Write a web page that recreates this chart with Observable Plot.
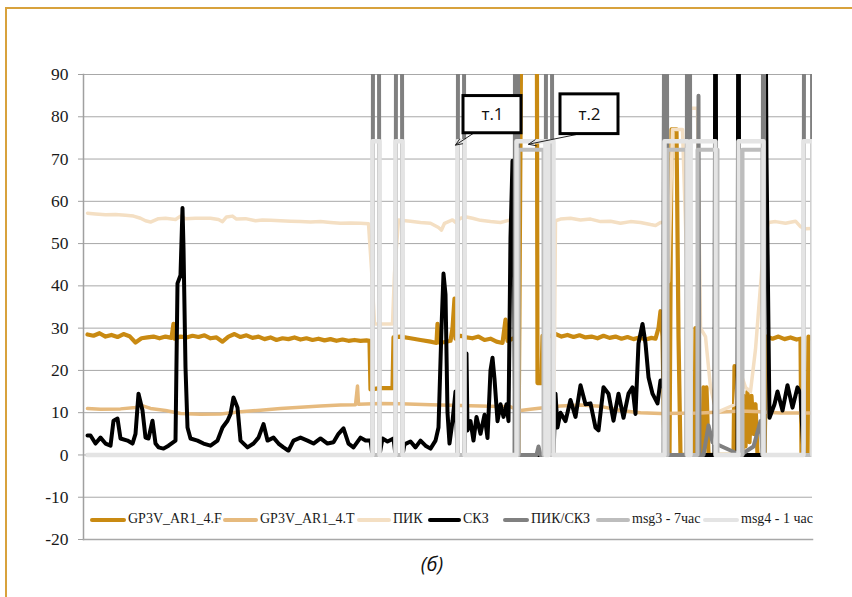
<!DOCTYPE html>
<html>
<head>
<meta charset="utf-8">
<script src="https://cdn.jsdelivr.net/npm/d3@7"></script>
<script src="https://cdn.jsdelivr.net/npm/@observablehq/plot@0.6"></script>
<style>
  html, body { margin: 0; padding: 0; background: #fff; }
  #wrap { position: relative; width: 852px; height: 597px; overflow: hidden; font-family: "Liberation Serif", "Times New Roman", Tinos, "DejaVu Serif", serif; color: #1a1a1a; }
  #border { position: absolute; left: 5px; top: 7px; width: 900px; height: 700px; border-left: 2px solid #D8A23C; border-top: 2px solid #D8A23C; }
  #chart { position: absolute; left: 0; top: 0; }
  #chart svg text { font-family: "Liberation Serif", "Times New Roman", Tinos, "DejaVu Serif", serif; }
  #chart svg text.callout { font-family: "Open Sans", "Noto Sans", sans-serif; }
  .lg { position: absolute; top: 510px; height: 18px; font-size: 14px; line-height: 18px; white-space: nowrap; }
  .lg .sw { position: absolute; top: 7.5px; height: 4px; border-radius: 2px; }
  .lg .tx { position: absolute; top: 0; }
  #caption { position: absolute; left: 0; width: 864px; top: 550px; text-align: center; font-family: "Open Sans", "DejaVu Sans", sans-serif; font-style: italic; font-size: 20px; color: #111; }
</style>
</head>
<body>
<div id="wrap">
  <div id="border"></div>
  <div id="chart"></div>
  <div id="legend"></div>
  <div id="caption">(б)</div>
</div>
<script>
// ---- data: [time index, value] ----
const seriesF = [[4,28.5],[10,28.2],[16,28.8],[22,28.0],[28,28.4],[34,27.9],[40,28.6],[46,28.1],[52,26.6],[58,27.6],[64,27.8],[70,28.0],[76,27.6],[82,28.0],[88,27.7],[90,31],[91,27.5],[97,28.0],[103,27.8],[109,28.2],[115,27.9],[121,28.3],[127,27.6],[133,27.8],[139,26.8],[145,28.0],[151,28.6],[157,27.9],[163,28.3],[169,27.7],[175,28.0],[181,27.4],[187,27.8],[193,27.2],[199,27.6],[205,27.4],[211,27.8],[217,27.3],[223,27.6],[229,27.2],[235,27.5],[241,27.1],[247,27.4],[253,27.0],[259,27.3],[265,27.0],[271,27.2],[277,27.0],[283,27.1],[286,27.0],[287,15.5],[297,15.8],[309,15.8],[310,27.8],[317,28.0],[327,27.6],[337,27.2],[347,26.8],[353,26.5],[354,31],[355,26.6],[361,26.7],[367,27.0],[369,30],[371,37],[372,27.5],[377,28.2],[383,27.8],[389,27.6],[395,28.0],[401,27.2],[407,27.5],[413,26.8],[419,26.5],[422,32],[424,27.0],[429,27.5],[433,27.5],[435,0],[439,150],[453,150],[454,17],[458,17],[459,28.2],[465,28.0],[472,28.6],[478,28.0],[484,28.4],[490,27.9],[496,28.3],[502,27.8],[508,28.0],[514,27.6],[520,28.2],[526,27.7],[532,28.0],[538,27.5],[544,27.9],[550,27.4],[556,27.8],[562,27.3],[568,27.7],[572,27.5],[575,30],[577,34],[579,28],[581,0],[586,0],[588,77],[593,77],[595,28],[597,0],[604,0],[605,82],[606,0],[611,0],[612,30],[614,0],[619,0],[620,16],[622,2],[623,16],[625,0],[650,0],[651,21],[653,0],[659,0],[660,14],[662,2],[664,15],[666,3],[668,14],[670,5],[672,12],[674,0],[681,0],[683,28],[689,27.5],[695,28.0],[701,27.4],[707,27.8],[713,27.3],[717,27.5],[718,0],[724,0],[725,28],[729,27.5]];

const seriesT = [[4,11],[17,10.8],[37,10.9],[52,11.2],[57,11.8],[67,11],[82,10.5],[97,9.8],[117,9.6],[137,9.7],[157,10.2],[177,10.6],[197,11],[217,11.3],[237,11.6],[257,11.8],[272,11.9],[274,16.3],[275,12],[297,12.2],[317,12.1],[347,11.9],[377,11.7],[407,11.5],[427,11.4],[437,10.5],[447,10.8],[462,11.2],[477,11.6],[497,11.8],[517,11.5],[537,10.5],[557,10],[577,9.8],[617,9.9],[657,10.4],[677,10.2],[697,9.9],[729,9.9]];

const seriesPIK = [[4,57.2],[12,57],[22,56.8],[32,56.9],[42,56.7],[50,56.5],[57,56],[62,55.4],[67,55.1],[75,55.9],[82,56],[92,55.7],[97,56.5],[102,55.9],[112,56],[127,56],[135,55.7],[139,55.2],[143,56.3],[149,56.5],[153,55.8],[162,55.9],[172,55.4],[179,55.6],[187,55.5],[197,55.4],[207,55.3],[217,55.2],[227,55.1],[237,55.2],[247,55],[257,54.8],[267,54.9],[277,54.8],[285,54.7],[288,44],[291,31],[309,31],[311,43],[315,55.6],[327,55.3],[337,55],[347,54.8],[355,53.8],[358,53.2],[361,54.8],[365,55.2],[369,55.6],[372,55],[377,56],[383,56.3],[389,56],[397,55.5],[407,55.2],[417,55],[425,55.5],[431,55],[433,0],[470,0],[472,55.4],[477,55.8],[487,56],[497,55.6],[507,55.8],[517,55.2],[527,55.3],[537,54.8],[547,55.2],[557,55],[567,54.5],[572,54.3],[577,55],[581,55],[585,41],[589,77],[599,77],[604,40],[607,82],[614,82],[617,30],[622,28],[627,16],[633,10],[652,12],[655,21],[662,16],[667,15],[672,25],[679,46],[682,52],[685,55],[692,55.2],[702,54.8],[712,55.3],[717,54],[722,53.5],[729,53.6]];

const seriesSKZ = [[4,4.6],[7,4.6],[12,2.7],[17,4.1],[22,2.7],[27,2.2],[30,8.1],[34,8.6],[37,3.9],[44,3.4],[49,2.7],[52,5],[55,14.5],[59,10.5],[62,4.1],[65,3.9],[69,8.1],[72,2.7],[75,1.8],[80,1.5],[85,2.2],[92,3.4],[94,40.6],[97,42.5],[99,58.4],[100,49],[102,20.7],[104,6.5],[107,3.9],[114,3.4],[120,2.7],[127,2.2],[134,3.4],[139,6.5],[144,8.1],[147,9.7],[150,13.6],[154,11.2],[157,3.4],[164,1.8],[170,2.7],[175,4.1],[180,7.3],[184,3.4],[190,4.1],[195,2.7],[200,1.8],[205,1],[210,3.4],[217,4.1],[224,3.4],[230,2.7],[237,3.9],[244,2.7],[250,3],[255,5],[260,6.3],[265,2.7],[270,1.8],[277,4.1],[282,3.4],[287,3.4],[289,0],[296,0],[299,3.9],[304,3.2],[310,3.9],[312,0],[319,0],[321,2.5],[327,3.2],[332,1.8],[337,3.4],[342,2.2],[347,1.5],[352,3.4],[355,6.5],[358,30],[360,42.9],[362,38],[364,10],[366,2.7],[369,8],[372,15],[374,0],[381,0],[383,24],[384,5.8],[387,8],[390,3.4],[393,9],[397,5],[401,9.5],[404,4],[407,20],[409,23],[411,18],[414,8],[417,12],[420,9],[423,12],[425,8],[427,51.5],[429,69.6],[430,60],[432,0],[470,0],[472,14.5],[474,6.5],[477,10],[482,8],[487,13],[492,9],[497,16.5],[502,12],[507,12.2],[512,6.5],[515,5.8],[520,16],[525,14.5],[530,8.1],[535,14.5],[540,8.8],[545,14.5],[549,16],[552,9.7],[555,26.4],[559,31],[562,26.4],[565,18.4],[569,14.5],[574,12.2],[577,17.6],[580,16],[581,150],[582,0],[631,0],[632,150],[633,0],[654,0],[655,150],[656,0],[680,0],[681,150],[683,70.4],[686,8.8],[691,12],[694,15],[699,10.5],[704,16.5],[709,11.2],[714,16],[717,14.5],[720,0],[729,0]];

const seriesRatio = [[4,0],[289,0],[290,200],[295,200],[296,0],[312,0],[313,200],[318,200],[319,0],[374,0],[375,200],[380,200],[381,0],[431,0],[432,200],[434,200],[435,0],[453,0],[455,2],[457,0],[462,0],[463,200],[468,200],[469,0],[580,0],[581,200],[583,200],[584,0],[603,0],[604,200],[606,200],[607,0],[614,0],[615,85],[616,0],[620,0],[625,7],[629,3],[657,0],[670,2],[677,8],[679,0],[680,200],[681,0],[720,0],[721,200],[728,200],[729,0]];

const seriesMsg3 = [[4,0],[435,0],[435,72.2],[460,72.2],[460,0],[584,0],[584,72.2],[603,72.2],[603,0],[614,0],[614,72.2],[634,72.2],[634,0],[659,0],[659,72.2],[679,72.2],[679,0],[729,0]];

const seriesMsg4 = [[4,0],[289,0],[289,74.2],[296,74.2],[296,0],[312,0],[312,74.2],[319,74.2],[319,0],[374,0],[374,74.2],[381,74.2],[381,0],[433,0],[433,74.2],[462,74.2],[462,0],[465,0],[465,74.2],[470,74.2],[470,0],[581,0],[581,74.2],[604,74.2],[604,0],[607,0],[607,74.2],[632,74.2],[632,0],[655,0],[655,74.2],[680,74.2],[680,0],[720,0],[720,74.2],[729,74.2],[729,0]];

const seriesNames  = ["GP3V_AR1_4.F", "GP3V_AR1_4.T", "ПИК", "СКЗ", "ПИК/СКЗ", "msg3 - 7час", "msg4 - 1 час"];
const seriesColors = ["#C98A12", "#E6BA7E", "#F4DFC3", "#000000", "#808080", "#BDBDBD", "#E4E4E4"];
const seriesWidths = [4.2, 3.5, 3.5, 4, 4, 4, 4.5];
const seriesData   = [seriesF, seriesT, seriesPIK, seriesSKZ, seriesRatio, seriesMsg3, seriesMsg4];

const yTicks = [-20, -10, 0, 10, 20, 30, 40, 50, 60, 70, 80, 90];

// callouts
const calloutLabels = ["т.1", "т.2"];
const calloutTipT   = [372, 445];
const calloutTipV   = [73.3, 73.5];
const calloutFromT  = [390, 495];
const calloutFromV  = [76.1, 75.9];
const calloutBoxT1  = [380, 477];
const calloutBoxT2  = [438, 535];
const calloutBoxV1  = [76.1, 75.9];
const calloutBoxV2  = [84.9, 85.3];

// legend layout (pixel positions of swatch start and text start)
const legendSwatchLeft = [90, 223, 357, 428, 503, 596, 703];
const legendTextLeft   = [128, 260, 393, 463, 531, 632, 741];

// ---- build ----
const rows = seriesData.map(s => s.map(([t, v]) => ({t, v})));
const callouts = calloutLabels.map((label, i) => ({
  label, tipT: calloutTipT[i], tipV: calloutTipV[i], fromT: calloutFromT[i], fromV: calloutFromV[i],
  bx1: calloutBoxT1[i], bx2: calloutBoxT2[i], by1: calloutBoxV1[i], by2: calloutBoxV2[i]
}));

const lineMarks = rows.map((r, i) => Plot.line(r, {
  x: "t", y: "v", stroke: seriesColors[i], strokeWidth: seriesWidths[i],
  strokeLinejoin: "round", strokeLinecap: "round", clip: true, curve: "linear"
}));

const chart = Plot.plot({
  width: 852, height: 597,
  marginLeft: 83, marginRight: 40, marginTop: 74, marginBottom: 58,
  style: {fontFamily: "'Liberation Serif', 'Times New Roman', serif", fontSize: "17px", color: "#1a1a1a", background: "transparent"},
  x: {domain: [0, 729], axis: null},
  y: {domain: [-20, 90], axis: null},
  marks: [
    Plot.gridY(yTicks.filter(d => d > -20), {stroke: "#A8A8A8", strokeOpacity: 1, strokeWidth: 1}),
    Plot.frame({anchor: "left", stroke: "#A0A0A0", strokeWidth: 1.5}),
    Plot.frame({anchor: "bottom", stroke: "#A8A8A8", strokeWidth: 1.5}),
    Plot.axisY(yTicks, {tickSize: 5, tickPadding: 10, stroke: "#A0A0A0", tickFormat: d => String(d), fontSize: 17.5}),
    ...lineMarks,
    Plot.arrow(callouts, {x1: "fromT", y1: "fromV", x2: "tipT", y2: "tipV", stroke: "#222", strokeWidth: 1, headLength: 12, headAngle: 45}),
    Plot.rect(callouts, {x1: "bx1", x2: "bx2", y1: "by1", y2: "by2", fill: "white", stroke: "black", strokeWidth: 3}),
    Plot.text(callouts, {x: d => (d.bx1 + d.bx2) / 2, y: d => (d.by1 + d.by2) / 2, text: "label", fontSize: 17, fill: "#111"})
  ]
});
document.getElementById("chart").appendChild(chart);
chart.querySelectorAll("g[aria-label='text'] text").forEach(t => t.classList.add("callout"));

// legend
const legend = document.getElementById("legend");
seriesNames.forEach((name, i) => {
  const item = document.createElement("div");
  item.className = "lg";
  item.style.left = legendSwatchLeft[i] + "px";
  const sw = document.createElement("div");
  sw.className = "sw";
  sw.style.left = "0px";
  sw.style.width = (legendTextLeft[i] - legendSwatchLeft[i] - 2) + "px";
  sw.style.background = seriesColors[i];
  const tx = document.createElement("span");
  tx.className = "tx";
  tx.style.left = (legendTextLeft[i] - legendSwatchLeft[i]) + "px";
  tx.textContent = name;
  item.appendChild(sw);
  item.appendChild(tx);
  legend.appendChild(item);
});
</script>
</body>
</html>
